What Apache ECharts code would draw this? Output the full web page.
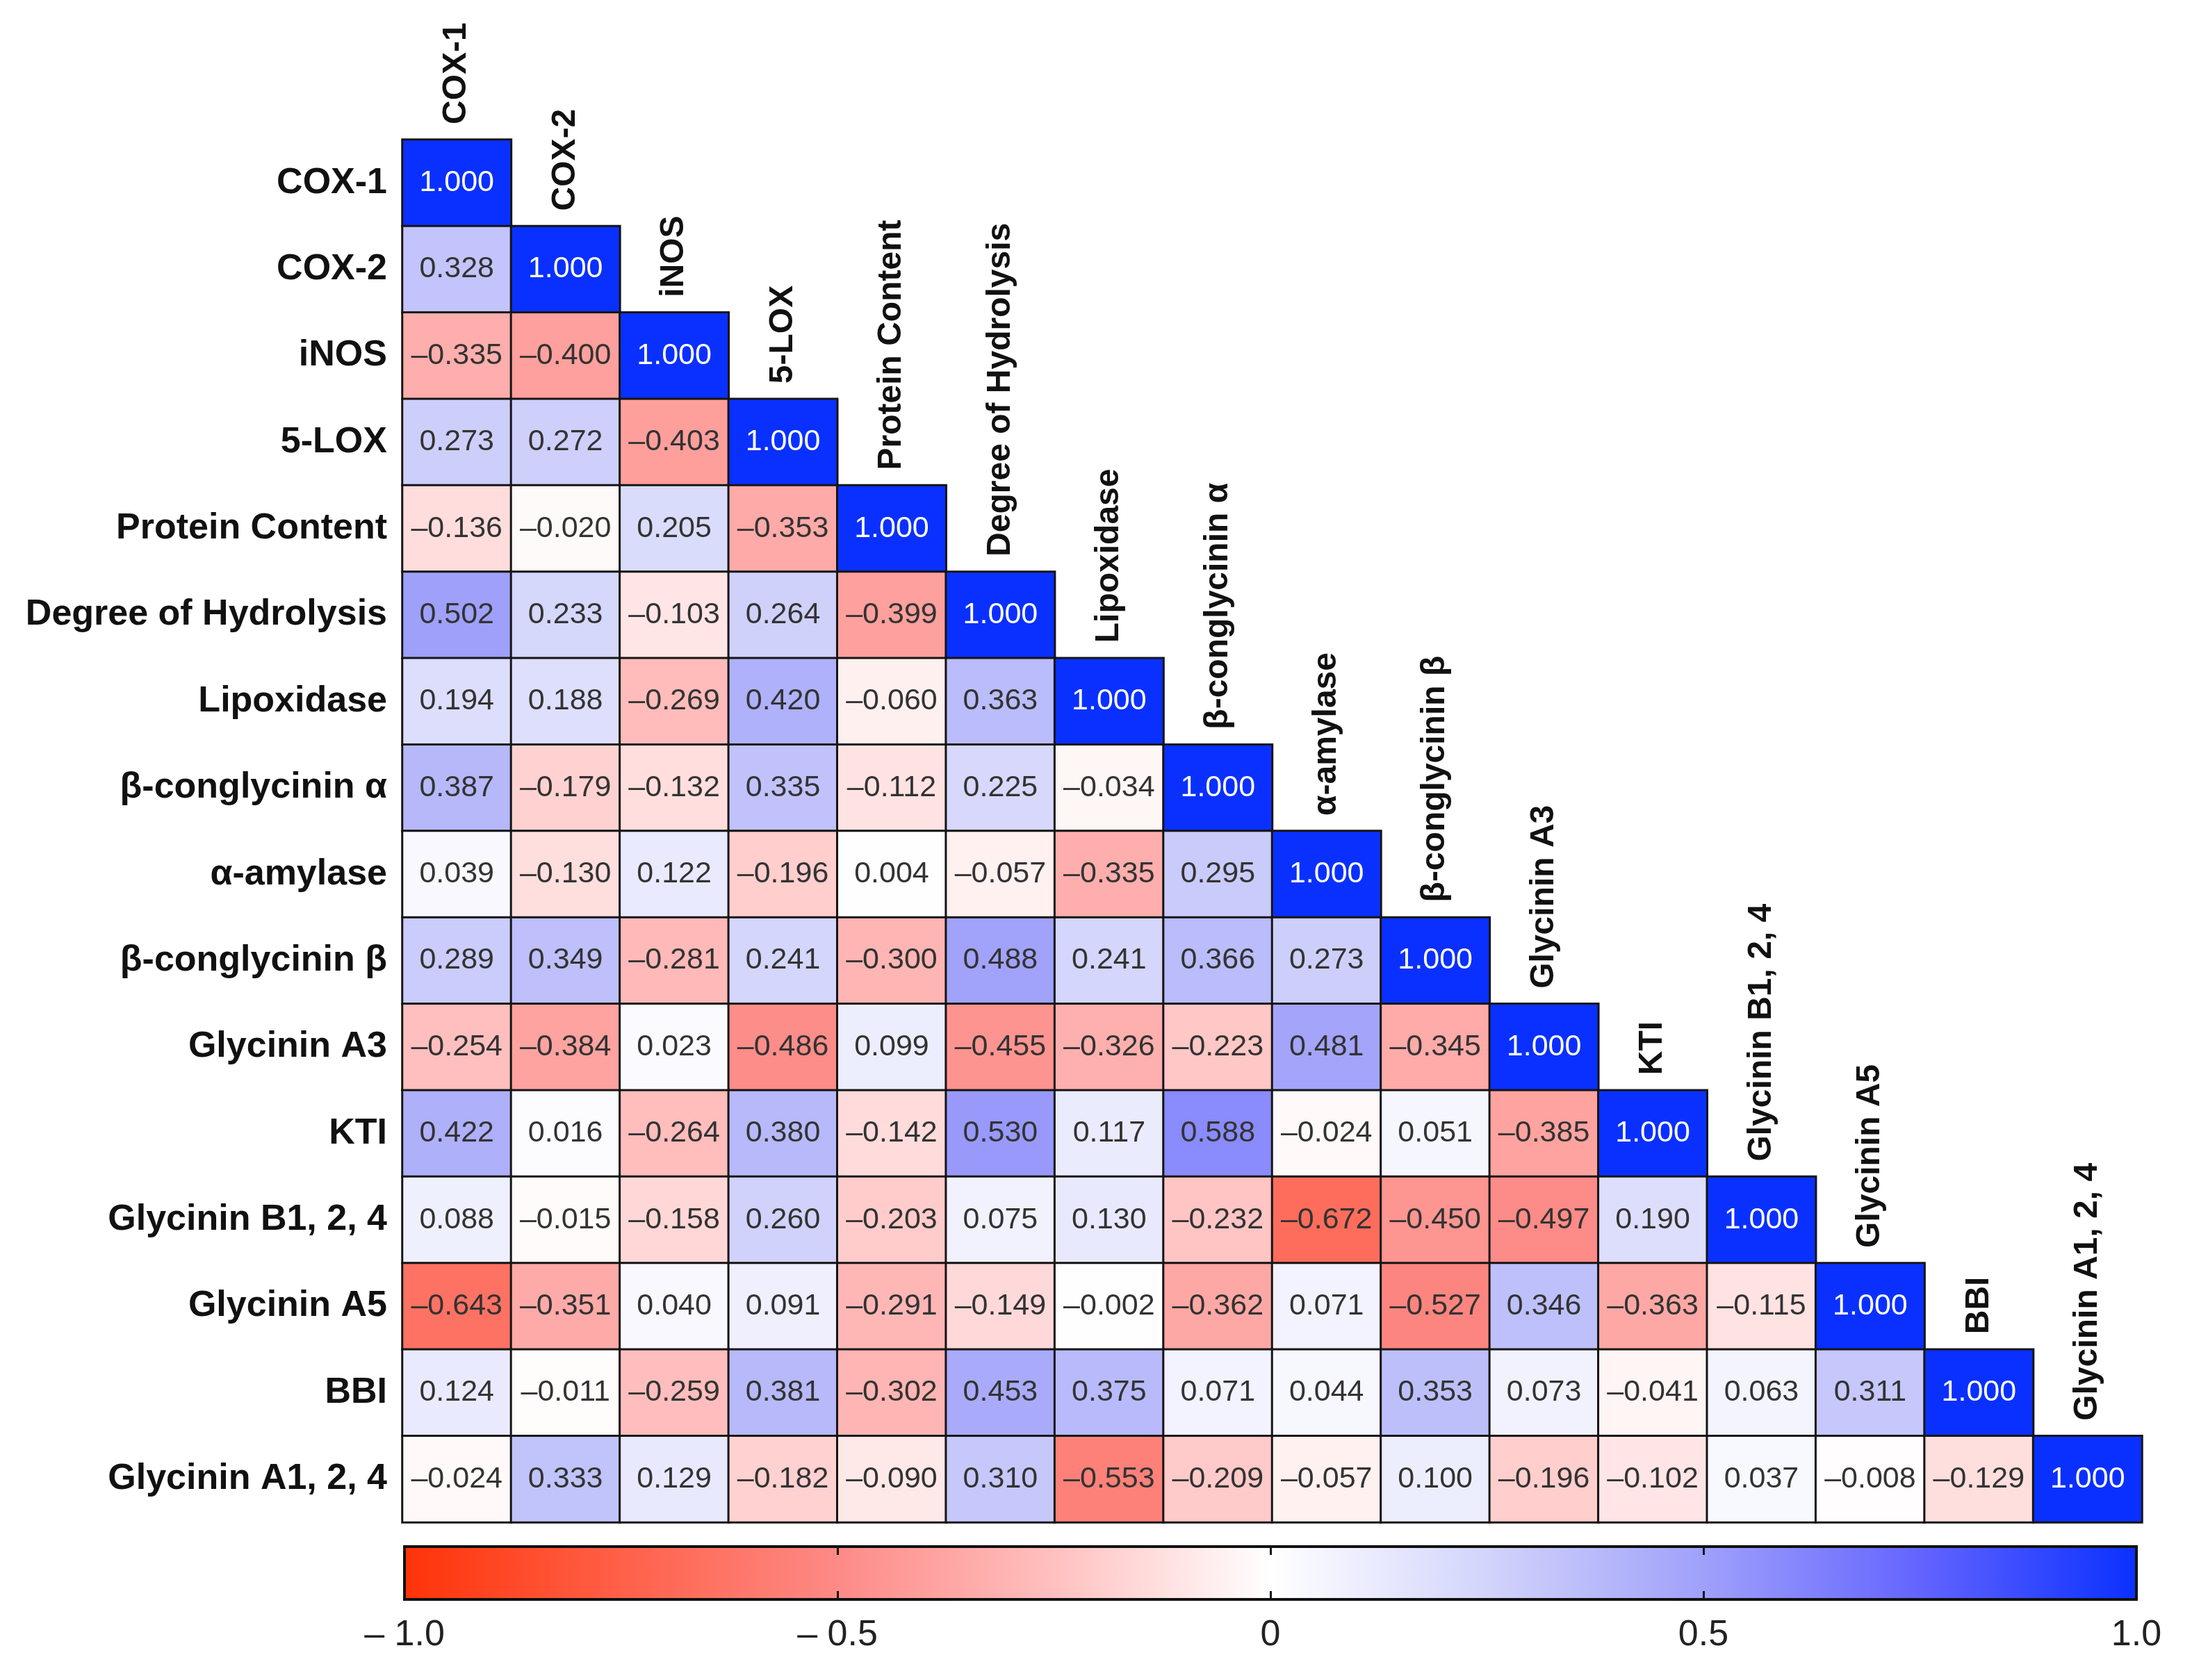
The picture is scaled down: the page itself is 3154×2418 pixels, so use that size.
<!DOCTYPE html>
<html>
<head>
<meta charset="utf-8">
<script src="https://cdn.jsdelivr.net/npm/echarts@6/dist/echarts.min.js"></script>
<style>
  html, body { margin: 0; padding: 0; background: #ffffff; }
  #chart { width: 3154px; height: 2418px; }
</style>
</head>
<body>
<div id="chart"></div>
<script>
// ---------- DATA ----------
const variables = ['COX-1', 'COX-2', 'iNOS', '5-LOX', 'Protein Content', 'Degree of Hydrolysis',
  'Lipoxidase', 'β-conglycinin α', 'α-amylase', 'β-conglycinin β', 'Glycinin A3', 'KTI',
  'Glycinin B1, 2, 4', 'Glycinin A5', 'BBI', 'Glycinin A1, 2, 4'];

// lower-triangle correlation rows (row i holds columns 0..i)
const rowCOX1 = [1.000];
const rowCOX2 = [0.328, 1.000];
const rowINOS = [-0.335, -0.400, 1.000];
const row5LOX = [0.273, 0.272, -0.403, 1.000];
const rowProtein = [-0.136, -0.020, 0.205, -0.353, 1.000];
const rowHydrolysis = [0.502, 0.233, -0.103, 0.264, -0.399, 1.000];
const rowLipoxidase = [0.194, 0.188, -0.269, 0.420, -0.060, 0.363, 1.000];
const rowBetaAlpha = [0.387, -0.179, -0.132, 0.335, -0.112, 0.225, -0.034, 1.000];
const rowAmylase = [0.039, -0.130, 0.122, -0.196, 0.004, -0.057, -0.335, 0.295, 1.000];
const rowBetaBeta = [0.289, 0.349, -0.281, 0.241, -0.300, 0.488, 0.241, 0.366, 0.273, 1.000];
const rowGlyA3 = [-0.254, -0.384, 0.023, -0.486, 0.099, -0.455, -0.326, -0.223, 0.481, -0.345, 1.000];
const rowKTI = [0.422, 0.016, -0.264, 0.380, -0.142, 0.530, 0.117, 0.588, -0.024, 0.051, -0.385, 1.000];
const rowGlyB124 = [0.088, -0.015, -0.158, 0.260, -0.203, 0.075, 0.130, -0.232, -0.672, -0.450, -0.497, 0.190, 1.000];
const rowGlyA5 = [-0.643, -0.351, 0.040, 0.091, -0.291, -0.149, -0.002, -0.362, 0.071, -0.527, 0.346, -0.363, -0.115, 1.000];
const rowBBI = [0.124, -0.011, -0.259, 0.381, -0.302, 0.453, 0.375, 0.071, 0.044, 0.353, 0.073, -0.041, 0.063, 0.311, 1.000];
const rowGlyA124 = [-0.024, 0.333, 0.129, -0.182, -0.090, 0.310, -0.553, -0.209, -0.057, 0.100, -0.196, -0.102, 0.037, -0.008, -0.129, 1.000];

const colorbarTicks = [-1, -0.5, 0, 0.5, 1];
const colorbarTickLabels = ['– 1.0', '– 0.5', '0', '0.5', '1.0'];

// ---------- BUILD ----------
const corrRows = [rowCOX1, rowCOX2, rowINOS, row5LOX, rowProtein, rowHydrolysis, rowLipoxidase,
  rowBetaAlpha, rowAmylase, rowBetaBeta, rowGlyA3, rowKTI, rowGlyB124, rowGlyA5, rowBBI, rowGlyA124];

const colorStops = ['#ff3308', '#ff6048', '#fd8a86', '#ffc0bf', '#ffffff', '#d2d4fb', '#9fa0fa', '#6364ff', '#0a30ff'];

const FONT = 'Liberation Sans, Arial, Helvetica, sans-serif';

const heatData = [];
corrRows.forEach((row, i) => {
  row.forEach((v, j) => {
    if (i === j) {
      heatData.push({ value: [j, i, v], label: { color: '#ffffff' } });
    } else {
      heatData.push({ value: [j, i, v] });
    }
  });
});

const diagData = variables.map((name, i) => [i, i]);

function fmtVal(v) {
  return v < 0 ? '–' + Math.abs(v).toFixed(3) : v.toFixed(3);
}

const chart = echarts.init(document.getElementById('chart'), null, { renderer: 'canvas' });

const option = {
  backgroundColor: '#ffffff',
  animation: false,
  grid: [
    { left: 579, right: 72, top: 201, height: 1990 },
    {
      left: 582, right: 80, top: 2226, height: 76, show: true,
      borderColor: '#111111', borderWidth: 4,
      backgroundColor: {
        type: 'linear', x: 0, y: 0, x2: 1, y2: 0,
        colorStops: colorStops.map((c, k) => ({ offset: k / (colorStops.length - 1), color: c }))
      }
    }
  ],
  xAxis: [
    {
      type: 'category', gridIndex: 0, data: variables,
      axisLine: { show: false }, axisTick: { show: false }, axisLabel: { show: false },
      splitLine: { show: false }
    },
    {
      type: 'value', gridIndex: 1, min: -1, max: 1, interval: 0.5, position: 'bottom',
      axisLine: { show: false },
      axisTick: { show: true, inside: true, length: 12, lineStyle: { color: '#111', width: 3 } },
      splitLine: { show: false },
      axisLabel: {
        show: true, margin: 26, fontSize: 52, color: '#222', fontFamily: FONT,
        formatter: function (v) {
          const k = colorbarTicks.indexOf(v);
          return k >= 0 ? colorbarTickLabels[k] : '';
        }
      }
    },
    {
      type: 'value', gridIndex: 1, min: -1, max: 1, interval: 0.5, position: 'top',
      axisLine: { show: false },
      axisTick: { show: true, inside: true, length: 12, lineStyle: { color: '#111', width: 3 } },
      splitLine: { show: false },
      axisLabel: { show: false }
    }
  ],
  yAxis: [
    {
      type: 'category', gridIndex: 0, data: variables, inverse: true,
      axisLine: { show: false }, axisTick: { show: false }, splitLine: { show: false },
      axisLabel: { fontSize: 52, fontWeight: 'bold', color: '#111', fontFamily: FONT, margin: 22 }
    },
    { type: 'value', gridIndex: 1, min: 0, max: 1, show: false }
  ],
  visualMap: {
    type: 'continuous', show: false, min: -1, max: 1, dimension: 2, seriesIndex: 0,
    inRange: { color: colorStops }
  },
  series: [
    {
      type: 'heatmap', xAxisIndex: 0, yAxisIndex: 0, data: heatData,
      itemStyle: { borderColor: '#151515', borderWidth: 3 },
      label: {
        show: true, fontSize: 43, color: '#333333', fontFamily: FONT,
        formatter: function (p) { return fmtVal(p.value[2]); }
      },
      emphasis: { disabled: true }
    },
    {
      type: 'custom', xAxisIndex: 0, yAxisIndex: 0, data: diagData, silent: true,
      renderItem: function (params, api) {
        const c = api.coord([api.value(0), api.value(1)]);
        const s = api.size([1, 1]);
        return {
          type: 'text',
          x: c[0], y: c[1] - s[1] / 2 - 22,
          rotation: Math.PI / 2,
          style: {
            text: variables[params.dataIndex],
            font: 'bold 48px ' + FONT,
            fill: '#111111',
            align: 'left',
            verticalAlign: 'middle'
          }
        };
      }
    }
  ]
};

chart.setOption(option);
</script>
</body>
</html>
